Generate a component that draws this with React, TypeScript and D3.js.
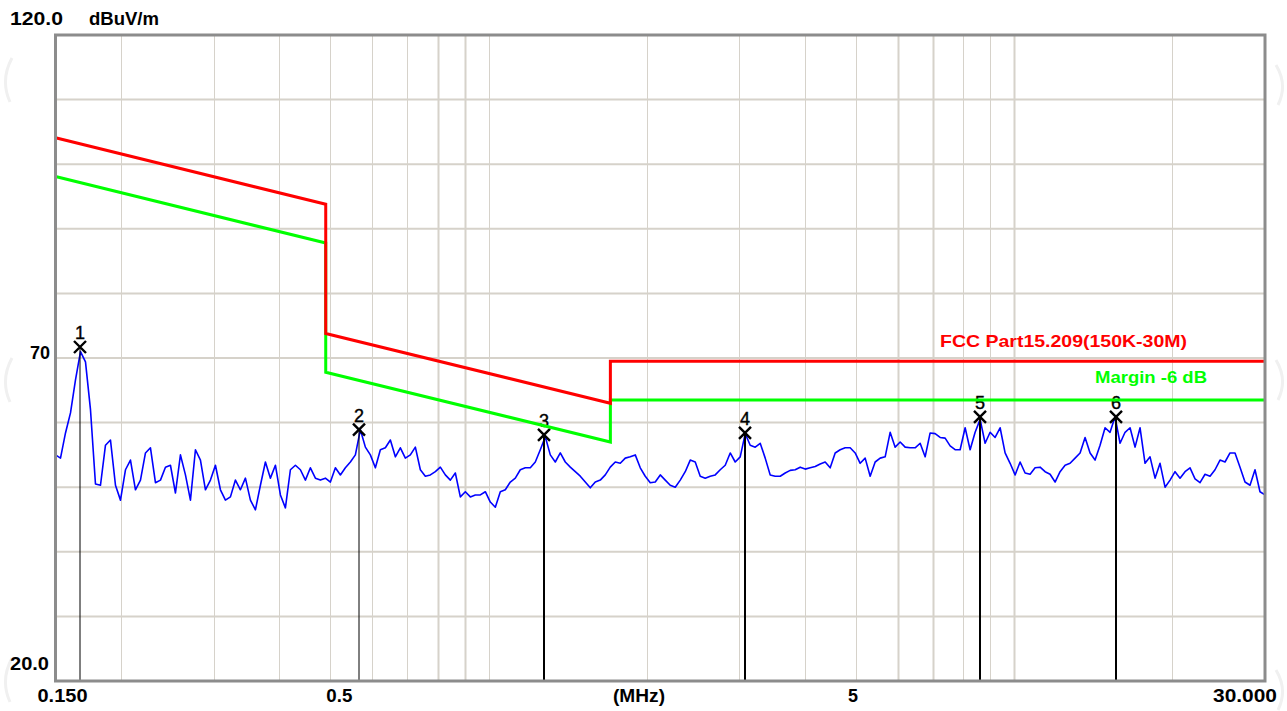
import React from "react";
import * as d3 from "d3";

// ---- data ----
const SWEEP_START_MHZ = 0.15;
const SWEEP_STOP_MHZ = 30;

const TRACE_DBUV = [
  55.0, 54.5, 58.4, 61.5, 66.6, 71.0, 69.4, 62.0, 50.5, 50.3,
  56.5, 57.3, 50.3, 48.0, 52.7, 54.2, 49.6, 51.1, 55.3, 56.1,
  50.7, 51.1, 53.1, 53.4, 49.1, 55.0, 51.9, 48.0, 55.8, 54.2,
  49.6, 51.1, 53.4, 49.6, 48.0, 48.5, 51.1, 49.6, 51.4, 48.0,
  46.5, 50.3, 53.9, 51.4, 53.4, 48.8, 46.8, 52.7, 53.4, 52.7,
  51.1, 53.0, 51.4, 51.1, 51.4, 50.8, 53.0, 51.9, 53.0, 53.9,
  55.0, 58.9, 56.2, 55.0, 53.0, 55.8, 56.1, 57.3, 54.7, 56.1,
  54.5, 55.0, 56.2, 52.7, 51.7, 51.9, 52.4, 53.1, 51.9, 51.1,
  52.2, 48.5, 49.3, 48.5, 48.8, 48.8, 49.3, 47.7, 46.9, 49.3,
  49.6, 50.8, 51.4, 52.7, 53.0, 53.0, 53.9, 55.8, 57.8, 55.0,
  53.9, 55.3, 53.9, 53.1, 52.4, 51.7, 50.8, 49.9, 50.8, 51.1,
  51.9, 53.1, 53.9, 53.7, 54.5, 54.7, 55.0, 53.0, 51.7, 50.7,
  50.8, 51.9, 51.1, 50.3, 50.0, 51.1, 52.4, 54.2, 53.9, 51.7,
  51.4, 51.7, 51.9, 52.7, 53.4, 55.3, 53.9, 54.7, 58.3, 56.5,
  56.2, 56.8, 54.5, 51.9, 51.7, 51.7, 52.2, 52.6, 52.7, 53.1,
  52.8, 53.0, 53.2, 53.6, 53.9, 53.0, 55.3, 55.8, 56.1, 56.1,
  55.3, 53.7, 54.5, 51.7, 53.9, 54.5, 54.7, 58.5, 56.2, 57.0,
  56.2, 56.1, 56.1, 56.8, 54.7, 58.4, 58.3, 57.7, 57.6, 56.4,
  55.8, 55.8, 59.2, 55.8, 58.5, 60.5, 56.8, 58.5, 57.7, 59.2,
  55.3, 53.7, 51.9, 53.9, 52.2, 52.0, 53.0, 53.1, 52.4, 52.0,
  50.8, 52.4, 53.4, 53.7, 54.5, 55.3, 57.7, 55.3, 54.2, 56.5,
  59.2, 58.5, 60.9, 56.8, 58.5, 59.2, 56.2, 59.2, 53.7, 54.7,
  51.4, 53.7, 50.0, 51.1, 52.4, 51.4, 52.4, 53.0, 51.3, 50.7,
  52.0, 51.7, 52.7, 54.2, 53.9, 55.3, 55.3, 53.1, 50.8, 50.3,
  52.7, 49.3, 48.8,
];

// FCC Part 15.209 limit (3 m), piecewise
const LIMIT_FREQ_MHZ = [0.15, 0.49, 0.49, 1.705, 1.705, 30];
const LIMIT_DBUV = [104.1, 93.8, 73.8, 63.0, 69.5, 69.5];
const MARGIN_DB = 6;

// Markers
const MARKER_NO = ["1", "2", "3", "4", "5", "6"];
const MARKER_FREQ_MHZ = [0.167, 0.568, 1.273, 3.07, 8.6, 15.6];
const MARKER_DBUV = [71.7, 58.9, 58.1, 58.4, 60.9, 60.9];

// Axes
const Y_MIN = 20;
const Y_MAX = 120;
const Y_GRID = [30, 40, 50, 60, 70, 80, 90, 100, 110];
const X_GRID_MHZ = [0.2, 0.3, 0.4, 0.5, 0.6, 0.7, 0.8, 0.9, 1, 2, 3, 4, 5, 6, 7, 8, 9, 10, 20];
const X_TICK_VALUES = [0.15, 0.5, 5, 30];
const X_TICK_LABELS = ["0.150", "0.5", "5", "30.000"];
const Y_TICK_VALUES = [120, 70, 20];
const Y_TICK_LABELS = ["120.0", "70", "20.0"];
const Y_UNIT = "dBuV/m";
const X_UNIT = "(MHz)";
const LIMIT_NAME = "FCC Part15.209(150K-30M)";
const MARGIN_NAME = "Margin -6 dB";

const W = 1287;
const H = 711;
const L = 55.5, R = 1265, T = 35, B = 681;

export default function App() {
  const x = d3.scaleLog().domain([SWEEP_START_MHZ, SWEEP_STOP_MHZ]).range([L, R]);
  const y = d3.scaleLinear().domain([Y_MIN, Y_MAX]).range([B, T]);

  const n = TRACE_DBUV.length;
  const trace = TRACE_DBUV.map((v, i) => ({
    f: SWEEP_START_MHZ * Math.pow(SWEEP_STOP_MHZ / SWEEP_START_MHZ, i / (n - 1)),
    v,
  }));
  const limit = LIMIT_FREQ_MHZ.map((f, i) => ({ f, v: LIMIT_DBUV[i] }));
  const margin = LIMIT_FREQ_MHZ.map((f, i) => ({ f, v: LIMIT_DBUV[i] - MARGIN_DB }));

  const line = d3
    .line<{ f: number; v: number }>()
    .x((d) => x(d.f))
    .y((d) => y(d.v));

  const thickGrid = new Set([0.8, 0.9, 6, 7, 10]);

  const font = "'Liberation Sans', Arial, sans-serif";
  const tickOffsets = [7, 9, -3, -20];
  const tickWidths = [50, 26, 10, 64];

  return (
    <svg
      width={W}
      height={H}
      style={{ position: "absolute", left: 0, top: 0, background: "#fff" }}
      fontFamily={font}
    >
      <rect x={0} y={0} width={W} height={H} fill="#fff" />
      {/* faint edge decorations */}
      {[80, 380, 680].map((cy, i) => (
        <path key={"lw" + i} d={`M 12 ${cy - 22} Q 0 ${cy} 10 ${cy + 22}`} fill="none" stroke="#f0f0f0" strokeWidth={3} />
      ))}
      {[85, 380, 690].map((cy, i) => (
        <path key={"rw" + i} d={`M 1276 ${cy - 20} Q 1288 ${cy} 1278 ${cy + 20}`} fill="none" stroke="#f0f0f0" strokeWidth={3} />
      ))}

      {/* grid */}
      {X_GRID_MHZ.map((f) => (
        <line
          key={"gx" + f}
          x1={Math.round(x(f)) + 0.5}
          x2={Math.round(x(f)) + 0.5}
          y1={T}
          y2={B}
          stroke="#d6d2ca"
          strokeWidth={thickGrid.has(f) ? 2 : 1}
        />
      ))}
      {Y_GRID.map((v) => (
        <line key={"gy" + v} x1={L} x2={R} y1={y(v)} y2={y(v)} stroke="#d6d2ca" strokeWidth={2} />
      ))}

      {/* trace */}
      <path d={line(trace) || ""} fill="none" stroke="#0000ff" strokeWidth={1.6} strokeLinejoin="round" />

      {/* markers */}
      {MARKER_NO.map((m, i) => {
        const mx = Math.round(x(MARKER_FREQ_MHZ[i]));
        const my = y(MARKER_DBUV[i]);
        const s = 6;
        return (
          <g key={"m" + m}>
            <line x1={mx} x2={mx} y1={my} y2={B} stroke="#000" strokeWidth={i < 2 ? 1 : 2} />
            <path
              d={`M ${mx - s} ${my - s} L ${mx + s} ${my + s} M ${mx - s} ${my + s} L ${mx + s} ${my - s}`}
              stroke="#000"
              strokeWidth={2.4}
              fill="none"
            />
            <text x={mx} y={my - 8} textAnchor="middle" fontSize={18} fill="#000" stroke="#000" strokeWidth={0.4}>
              {m}
            </text>
          </g>
        );
      })}

      {/* limit lines */}
      <path d={line(margin) || ""} fill="none" stroke="#00ff00" strokeWidth={3} />
      <path d={line(limit) || ""} fill="none" stroke="#ff0000" strokeWidth={3} />

      <text x={940} y={347} fontSize={17} fontWeight="bold" fill="#ff0000" textLength={247} lengthAdjust="spacingAndGlyphs">
        {LIMIT_NAME}
      </text>
      <text x={1095} y={383} fontSize={17} fontWeight="bold" fill="#00ff00" textLength={112} lengthAdjust="spacingAndGlyphs">
        {MARGIN_NAME}
      </text>

      {/* frame */}
      <rect x={L} y={T} width={R - L} height={B - T} fill="none" stroke="#8c8c8c" strokeWidth={3} />

      {/* y labels */}
      <text x={10} y={25} fontSize={18} fontWeight="bold" fill="#000" textLength={53} lengthAdjust="spacingAndGlyphs">
        {Y_TICK_LABELS[0]}
      </text>
      <text x={89} y={25} fontSize={18} fontWeight="bold" fill="#000" textLength={70} lengthAdjust="spacingAndGlyphs">
        {Y_UNIT}
      </text>
      <text x={50} y={y(Y_TICK_VALUES[1]) + 1} textAnchor="end" fontSize={18} fontWeight="bold" fill="#000">
        {Y_TICK_LABELS[1]}
      </text>
      <text x={10} y={y(Y_TICK_VALUES[2]) - 11} fontSize={18} fontWeight="bold" fill="#000" textLength={39} lengthAdjust="spacingAndGlyphs">
        {Y_TICK_LABELS[2]}
      </text>

      {/* x labels */}
      {X_TICK_VALUES.map((f, i) => {
        const cx = x(f) + tickOffsets[i];
        return (
          <text
            key={"xt" + i}
            x={cx - tickWidths[i] / 2}
            y={702}
            fontSize={18}
            fontWeight="bold"
            fill="#000"
            textLength={tickWidths[i]}
            lengthAdjust="spacingAndGlyphs"
          >
            {X_TICK_LABELS[i]}
          </text>
        );
      })}
      <text x={613} y={702} fontSize={18} fontWeight="bold" fill="#000" textLength={52} lengthAdjust="spacingAndGlyphs">
        {X_UNIT}
      </text>
    </svg>
  );
}
